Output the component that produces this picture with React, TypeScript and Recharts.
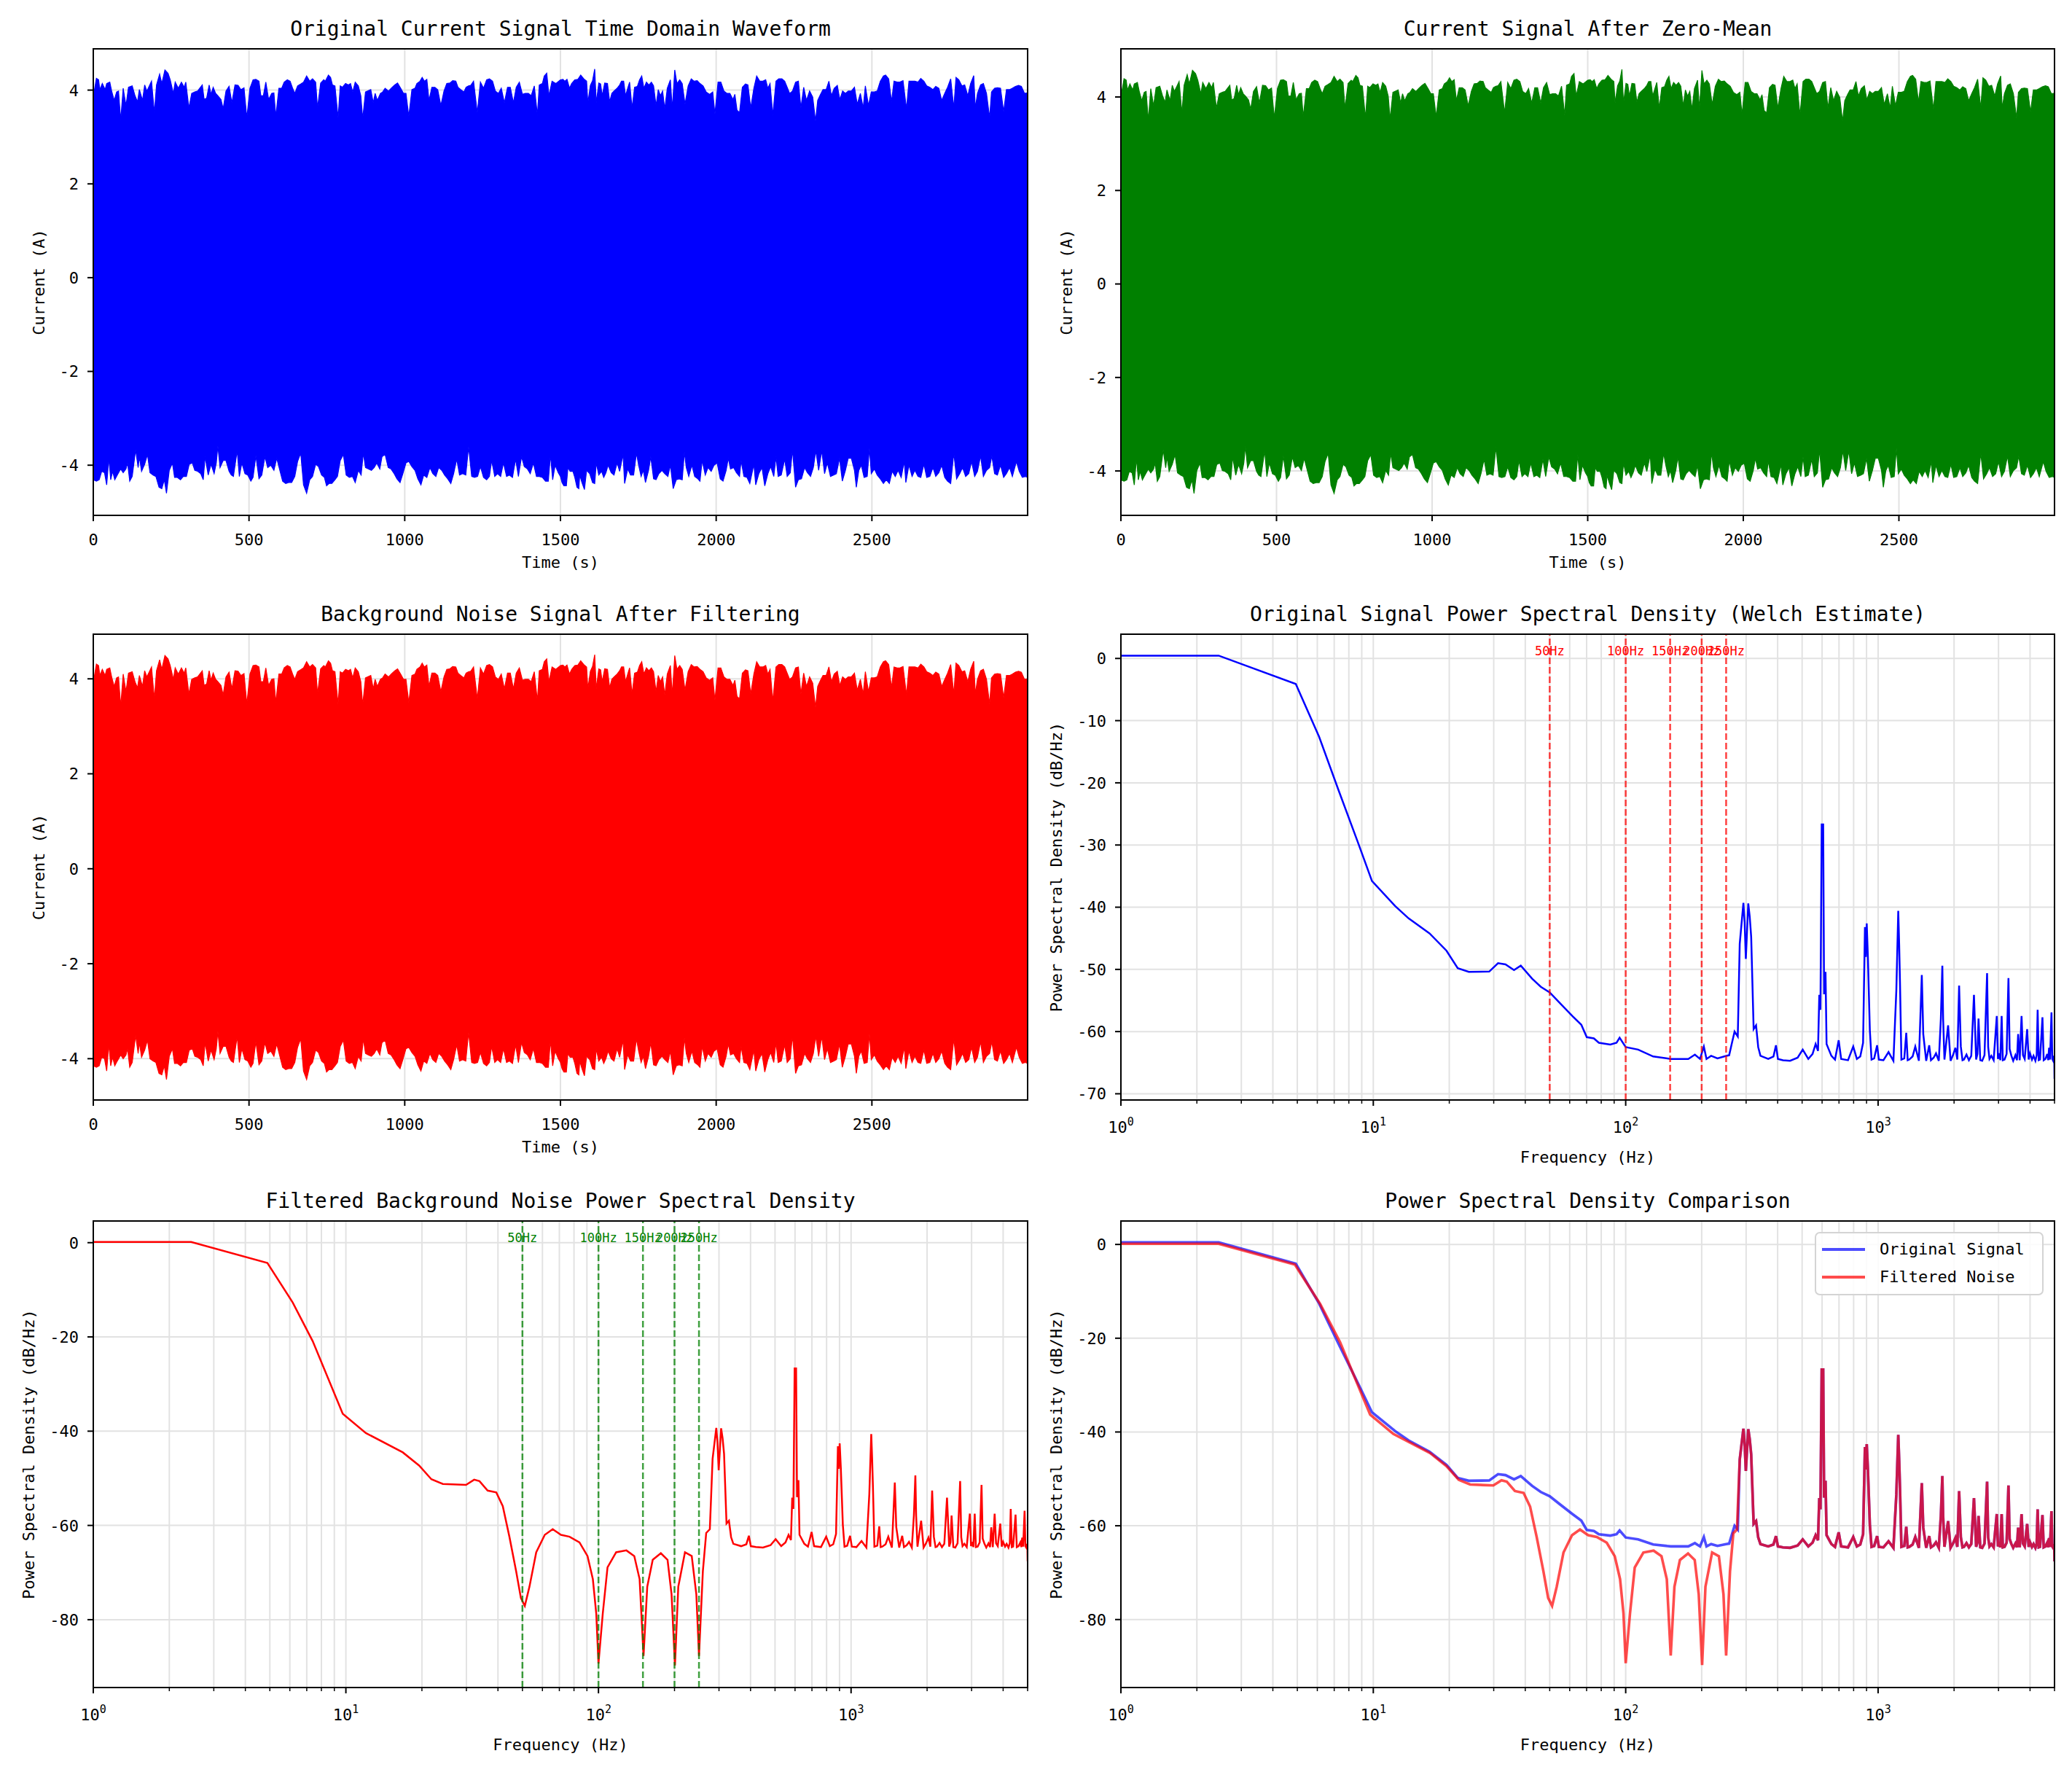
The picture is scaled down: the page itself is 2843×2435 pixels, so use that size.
import React from "react";
import { AreaChart, Area, LineChart, Line, XAxis, YAxis, CartesianGrid, ReferenceLine, Legend } from "recharts";

const FONT = "'DejaVu Sans Mono', monospace";

// ---------- time-domain waveforms: outline of the upper and lower edge of the dense trace ----------
const upperTimes = [
  0,10,17,21,29,38,43,53,59,67, 75,81,88,96,105,113,125,134,142,148, 158,165,172,180,187,196,203,213,220,230,
  240,247,257,263,273,283,292,297,307,316, 326,335,343,350,356,364,372,378,385,393, 400,410,417,426,436,445,455,465,474,484,
  493,503,513,522,532,538,546,554,563,573, 580,586,596,605,613,623,632,640,647,656, 666,675,685,695,704,714,720,730,740,745,
  755,762,768,776,786,793,800,810,819,826, 833,841,851,859,865,874,881,891,899,905, 912,922,929,937,948,958,968,977,987,996,
  1004,1013,1023,1033,1039,1049,1056,1063,1071,1078, 1087,1097,1106,1116,1126,1135,1145,1154,1164,1171, 1180,1190,1197,1205,1212,1221,1233,1243,1253,1263,
  1272,1282,1291,1301,1310,1320,1330,1339,1349,1358, 1368,1378,1387,1397,1406,1416,1426,1432,1442,1448, 1456,1463,1473,1485,1500,1508,1514,1521,1529,1536,
  1546,1556,1565,1575,1584,1588,1596,1603,1610,1615, 1623,1629,1634,1642,1651,1658,1665,1672,1682,1690, 1696,1703,1709,1716,1722,1730,1738,1747,1754,1761,
  1768,1776,1784,1792,1799,1807,1814,1821,1828,1835, 1843,1853,1859,1867,1874,1883,1891,1900,1910,1920, 1929,1939,1948,1958,1968,1979,1989,1996,2006,2015,
  2025,2035,2044,2054,2060,2067,2075,2084,2094,2102, 2111,2121,2130,2140,2150,2159,2166,2173,2182,2192, 2201,2211,2220,2228,2236,2245,2255,2264,2272,2281,
  2290,2300,2310,2319,2326,2335,2343,2353,2362,2370, 2379,2389,2397,2406,2415,2424,2434,2444,2453,2463, 2472,2479,2489,2498,2508,2517,2527,2537,2544,2554,
  2563,2571,2581,2590,2600,2611,2619,2629,2638,2648, 2657,2667,2676,2686,2696,2705,2715,2724,2734,2743, 2753,2763,2770,2779,2789,2798,2808,2817,2827,2832,
  2839,2849,2858,2868,2878,2884,2894,2903,2913,2923, 2932,2942,2951,2961,2971,2980,2990,3000,
];
const lowerTimes = [
  0,10,19,27,36,43,50,56,62,69, 77,88,96,105,110,117,125,136,144,148, 155,165,174,182,192,201,211,220,228,235,
  244,254,261,270,280,289,299,308,318,326, 335,345,353,359,369,378,388,395,400,407, 417,426,436,443,450,462,469,477,487,496,
  506,513,522,532,541,551,560,570,580,589, 599,608,618,627,637,647,656,666,675,685, 695,704,714,723,733,742,749,757,766,776,
  784,793,803,812,822,832,841,851,860,867, 874,883,893,902,910,920,927,937,947,956, 966,975,985,994,1004,1013,1023,1033,1042,1052,
  1061,1071,1081,1090,1100,1109,1119,1128,1138,1148, 1157,1167,1176,1186,1196,1205,1215,1224,1234,1243, 1253,1263,1272,1279,1289,1298,1308,1317,1327,1336,
  1346,1356,1365,1375,1384,1394,1403,1413,1423,1432, 1442,1452,1461,1468,1475,1483,1493,1500,1505,1511, 1519,1524,1531,1540,1546,1553,1559,1562,1569,1577,
  1584,1594,1603,1610,1615,1623,1632,1639,1646,1653, 1663,1672,1682,1690,1701,1706,1716,1725,1735,1744, 1751,1759,1766,1773,1783,1790,1799,1807,1816,1826,
  1835,1845,1853,1862,1872,1881,1891,1898,1904,1912, 1922,1931,1941,1948,1955,1965,1974,1984,1993,2003, 2013,2022,2032,2039,2046,2056,2065,2075,2080,2089,
  2099,2108,2121,2127,2137,2147,2156,2166,2175,2185, 2192,2199,2209,2220,2228,2238,2245,2255,2264,2274, 2284,2293,2303,2312,2320,2329,2339,2348,2357,2367,
  2377,2386,2396,2405,2415,2424,2434,2444,2450,2458, 2466,2475,2485,2492,2498,2508,2517,2527,2537,2546, 2556,2565,2575,2584,2594,2604,2609,2619,2629,2638,
  2648,2657,2667,2676,2686,2696,2705,2715,2724,2734, 2743,2753,2763,2772,2782,2791,2801,2811,2820,2830, 2839,2849,2858,2868,2878,2885,2894,2903,2913,2923,
  2932,2942,2951,2964,2973,2983,2993,3000,
];

const origUpper = [
  3.86,4.25,4.22,4.01,4.14,4.01,4.14,4.17,3.98,3.78, 3.96,3.98,3.36,4.04,3.67,4.06,4.09,3.88,3.75,4.01, 3.78,4.11,3.98,4.09,4.19,3.52,4.11,4.34,4.14,4.43,
  4.36,4.22,3.93,4.17,4.04,4.17,4.06,4.17,3.62,3.93, 3.96,3.98,4.05,4.11,3.80,3.83,4.11,3.91,4.06,3.93, 3.88,3.80,3.60,3.98,4.08,3.73,4.11,4.10,4.01,4.05,
  3.41,4.04,4.22,4.23,4.19,3.88,3.88,4.17,3.80,3.93, 3.94,3.44,4.04,4.04,4.17,4.22,4.19,4.04,3.93,4.09, 4.13,4.17,4.30,4.19,4.24,4.17,3.62,4.15,4.22,4.19,
  4.32,4.27,4.11,4.09,3.41,4.09,4.06,4.14,4.11,4.14, 3.96,4.17,4.09,3.88,3.39,3.96,3.98,4.01,3.73,3.93, 3.78,3.93,3.96,4.04,3.98,4.05,4.11,4.15,4.04,3.93,
  3.93,3.44,4.01,4.04,4.14,4.19,4.27,4.19,4.23,3.78, 4.06,4.06,4.01,3.67,3.98,4.14,4.15,4.20,4.19,4.06, 4.01,3.96,4.06,4.09,4.10,4.19,3.52,4.17,4.04,4.22,
  4.24,4.19,3.98,3.93,4.04,3.73,4.06,4.06,3.73,4.06, 4.17,3.91,3.93,3.93,3.88,4.09,3.47,4.11,4.14,4.30, 4.36,3.88,4.19,4.14,4.22,4.23,4.19,4.23,4.04,4.14,
  4.22,4.23,4.32,4.24,4.19,3.73,4.10,4.20,4.45,3.73, 4.15,4.13,3.88,4.15,4.14,3.75,3.93,3.98,4.04,4.11, 4.19,4.19,3.88,4.04,4.17,3.62,4.06,4.08,4.22,4.30,
  4.04,4.17,4.11,4.17,4.09,3.67,4.01,3.88,3.98,3.60, 4.04,4.22,3.60,4.43,4.14,4.22,4.14,3.70,4.09,4.24, 4.19,4.20,4.14,4.09,3.96,3.91,3.96,3.49,4.17,4.17,
  3.98,3.93,3.93,3.80,3.91,3.57,3.52,4.06,4.13,4.11, 3.62,4.04,4.30,4.19,4.19,4.22,4.04,4.14,3.47,4.19, 4.24,4.24,4.19,4.06,3.93,3.98,4.17,4.19,3.62,4.06,
  3.78,3.98,3.85,3.34,3.78,3.91,4.01,4.01,4.19,3.88, 4.04,4.10,3.80,3.98,3.93,3.98,3.98,4.06,3.70,3.93, 3.62,4.09,3.67,3.96,3.96,3.98,4.19,4.30,4.32,4.24,
  3.75,4.19,4.17,4.17,4.20,3.60,4.19,4.19,4.19,4.17, 4.25,4.19,4.09,4.06,4.01,4.08,4.04,3.78,3.93,4.06, 4.24,3.62,4.27,4.22,4.09,4.11,3.88,4.14,4.31,3.62,
  3.93,4.11,4.14,3.93,3.41,3.96,4.04,4.05,4.04,3.54, 4.01,4.01,4.04,4.08,4.10,4.08,3.93,3.94,
];
const origLower = [
  -4.31,-4.34,-4.31,-4.13,-4.16,-4.42,-3.85,-4.31,-4.13,-4.31, -4.21,-4.08,-4.16,-4.08,-3.95,-4.34,-4.24,-3.67,-4.05,-3.82, -4.13,-3.98,-3.77,-4.16,-4.21,-4.24,-4.47,-4.50,-4.31,-4.60,
  -4.11,-3.95,-4.26,-4.26,-4.31,-4.24,-4.24,-3.98,-3.95,-4.11, -4.13,-4.18,-4.31,-3.82,-4.21,-3.98,-4.18,-3.95,-3.59,-4.05, -3.90,-3.90,-4.13,-4.21,-4.24,-3.69,-4.24,-3.95,-4.18,-4.21,
  -4.34,-4.26,-3.80,-4.29,-4.21,-3.82,-4.05,-4.00,-4.11,-3.85, -4.11,-4.34,-4.39,-4.37,-4.37,-4.24,-3.92,-3.74,-4.42,-4.60, -4.31,-4.24,-3.98,-4.03,-4.21,-4.26,-4.44,-4.39,-4.39,-4.31,
  -4.24,-3.90,-3.77,-4.21,-4.26,-4.24,-4.37,-4.11,-4.21,-3.74, -4.05,-4.08,-4.11,-4.05,-3.95,-4.08,-3.82,-3.77,-4.05,-4.08, -4.18,-4.29,-4.37,-4.18,-3.95,-3.92,-4.03,-4.11,-4.29,-4.42,
  -4.21,-4.26,-4.05,-4.18,-4.24,-4.05,-4.11,-4.21,-4.29,-4.39, -4.18,-3.87,-4.21,-4.18,-4.21,-3.61,-4.24,-4.26,-4.24,-4.03, -4.26,-4.31,-4.24,-3.90,-4.24,-4.18,-4.24,-3.95,-4.24,-4.21,
  -4.26,-3.87,-4.24,-3.82,-4.03,-4.08,-4.18,-3.95,-4.24,-4.24, -4.26,-4.34,-4.34,-3.77,-4.31,-4.00,-4.16,-4.24,-4.37,-4.44, -4.44,-4.05,-4.13,-4.13,-4.26,-4.47,-4.50,-4.21,-4.37,-4.52,
  -4.11,-4.18,-4.37,-4.39,-3.95,-4.21,-4.13,-4.26,-4.16,-4.00, -4.16,-4.21,-3.95,-4.13,-3.77,-4.39,-4.08,-4.21,-4.21,-3.74, -4.00,-4.24,-4.11,-4.37,-4.11,-3.82,-4.29,-4.31,-4.18,-4.11,
  -4.18,-4.24,-4.00,-4.50,-4.31,-4.29,-4.31,-3.72,-4.05,-4.24, -4.00,-4.24,-4.29,-4.34,-3.90,-4.21,-4.05,-4.13,-4.00,-3.95, -4.29,-4.34,-4.11,-3.85,-4.08,-4.05,-4.16,-4.24,-3.90,-4.24,
  -4.26,-4.39,-3.98,-4.42,-4.18,-4.05,-4.44,-4.18,-4.03,-4.24, -3.82,-4.24,-4.21,-3.87,-4.24,-4.16,-3.67,-4.47,-4.31,-4.29, -4.05,-4.16,-4.24,-4.05,-3.69,-4.11,-3.69,-4.18,-3.95,-4.24,
  -4.21,-4.18,-3.85,-4.34,-4.11,-3.85,-3.85,-4.11,-4.47,-4.11, -4.00,-4.26,-4.24,-3.64,-4.18,-4.08,-4.21,-4.29,-4.39,-4.31, -4.39,-4.13,-4.24,-4.11,-4.26,-3.92,-4.37,-4.00,-4.24,-4.11,
  -4.24,-4.26,-3.98,-4.26,-4.24,-4.05,-4.24,-4.16,-4.00,-4.26, -4.34,-4.39,-3.74,-4.29,-4.18,-4.05,-4.24,-4.18,-3.92,-4.24, -4.13,-3.80,-4.24,-4.11,-4.05,-3.80,-4.18,-4.21,-4.00,-4.26,
  -4.18,-4.05,-4.24,-3.92,-4.13,-4.26,-4.24,-4.26,
];

const zeroMeanUpper = [
  4.00,4.39,4.36,4.15,4.28,4.15,4.28,4.31,4.12,3.92, 4.10,4.12,3.50,4.18,3.81,4.20,4.23,4.02,3.89,4.15, 3.92,4.25,4.12,4.23,4.33,3.66,4.25,4.48,4.28,4.57,
  4.50,4.36,4.07,4.31,4.18,4.31,4.20,4.31,3.76,4.07, 4.10,4.12,4.19,4.25,3.94,3.97,4.25,4.05,4.20,4.07, 4.02,3.94,3.74,4.12,4.22,3.87,4.25,4.24,4.15,4.19,
  3.55,4.18,4.36,4.37,4.33,4.02,4.02,4.31,3.94,4.07, 4.08,3.58,4.18,4.18,4.31,4.36,4.33,4.18,4.07,4.23, 4.27,4.31,4.44,4.33,4.38,4.31,3.76,4.29,4.36,4.33,
  4.46,4.41,4.25,4.23,3.55,4.23,4.20,4.28,4.25,4.28, 4.10,4.31,4.23,4.02,3.53,4.10,4.12,4.15,3.87,4.07, 3.92,4.07,4.10,4.18,4.12,4.19,4.25,4.29,4.18,4.07,
  4.07,3.58,4.15,4.18,4.28,4.33,4.41,4.33,4.37,3.92, 4.20,4.20,4.15,3.81,4.12,4.28,4.29,4.34,4.33,4.20, 4.15,4.10,4.20,4.23,4.24,4.33,3.66,4.31,4.18,4.36,
  4.38,4.33,4.12,4.07,4.18,3.87,4.20,4.20,3.87,4.20, 4.31,4.05,4.07,4.07,4.02,4.23,3.61,4.25,4.28,4.44, 4.50,4.02,4.33,4.28,4.36,4.37,4.33,4.37,4.18,4.28,
  4.36,4.37,4.46,4.38,4.33,3.87,4.24,4.34,4.59,3.87, 4.29,4.27,4.02,4.29,4.28,3.89,4.07,4.12,4.18,4.25, 4.33,4.33,4.02,4.18,4.31,3.76,4.20,4.22,4.36,4.44,
  4.18,4.31,4.25,4.31,4.23,3.81,4.15,4.02,4.12,3.74, 4.18,4.36,3.74,4.57,4.28,4.36,4.28,3.84,4.23,4.38, 4.33,4.34,4.28,4.23,4.10,4.05,4.10,3.63,4.31,4.31,
  4.12,4.07,4.07,3.94,4.05,3.71,3.66,4.20,4.27,4.25, 3.76,4.18,4.44,4.33,4.33,4.36,4.18,4.28,3.61,4.33, 4.38,4.38,4.33,4.20,4.07,4.12,4.31,4.33,3.76,4.20,
  3.92,4.12,3.99,3.48,3.92,4.05,4.15,4.15,4.33,4.02, 4.18,4.24,3.94,4.12,4.07,4.12,4.12,4.20,3.84,4.07, 3.76,4.23,3.81,4.10,4.10,4.12,4.33,4.44,4.46,4.38,
  3.89,4.33,4.31,4.31,4.34,3.74,4.33,4.33,4.33,4.31, 4.39,4.33,4.23,4.20,4.15,4.22,4.18,3.92,4.07,4.20, 4.38,3.76,4.41,4.36,4.23,4.25,4.02,4.28,4.45,3.76,
  4.07,4.25,4.28,4.07,3.55,4.10,4.18,4.19,4.18,3.68, 4.15,4.15,4.18,4.22,4.24,4.22,4.07,4.08,
];
const zeroMeanLower = [
  -4.19,-4.22,-4.19,-4.01,-4.04,-4.30,-3.73,-4.19,-4.01,-4.19, -4.09,-3.96,-4.04,-3.96,-3.83,-4.22,-4.12,-3.55,-3.93,-3.70, -4.01,-3.86,-3.65,-4.04,-4.09,-4.12,-4.35,-4.38,-4.19,-4.48,
  -3.99,-3.83,-4.14,-4.14,-4.19,-4.12,-4.12,-3.86,-3.83,-3.99, -4.01,-4.06,-4.19,-3.70,-4.09,-3.86,-4.06,-3.83,-3.47,-3.93, -3.78,-3.78,-4.01,-4.09,-4.12,-3.57,-4.12,-3.83,-4.06,-4.09,
  -4.22,-4.14,-3.68,-4.17,-4.09,-3.70,-3.93,-3.88,-3.99,-3.73, -3.99,-4.22,-4.27,-4.25,-4.25,-4.12,-3.80,-3.62,-4.30,-4.48, -4.19,-4.12,-3.86,-3.91,-4.09,-4.14,-4.32,-4.27,-4.27,-4.19,
  -4.12,-3.78,-3.65,-4.09,-4.14,-4.12,-4.25,-3.99,-4.09,-3.62, -3.93,-3.96,-3.99,-3.93,-3.83,-3.96,-3.70,-3.65,-3.93,-3.96, -4.06,-4.17,-4.25,-4.06,-3.83,-3.80,-3.91,-3.99,-4.17,-4.30,
  -4.09,-4.14,-3.93,-4.06,-4.12,-3.93,-3.99,-4.09,-4.17,-4.27, -4.06,-3.75,-4.09,-4.06,-4.09,-3.49,-4.12,-4.14,-4.12,-3.91, -4.14,-4.19,-4.12,-3.78,-4.12,-4.06,-4.12,-3.83,-4.12,-4.09,
  -4.14,-3.75,-4.12,-3.70,-3.91,-3.96,-4.06,-3.83,-4.12,-4.12, -4.14,-4.22,-4.22,-3.65,-4.19,-3.88,-4.04,-4.12,-4.25,-4.32, -4.32,-3.93,-4.01,-4.01,-4.14,-4.35,-4.38,-4.09,-4.25,-4.40,
  -3.99,-4.06,-4.25,-4.27,-3.83,-4.09,-4.01,-4.14,-4.04,-3.88, -4.04,-4.09,-3.83,-4.01,-3.65,-4.27,-3.96,-4.09,-4.09,-3.62, -3.88,-4.12,-3.99,-4.25,-3.99,-3.70,-4.17,-4.19,-4.06,-3.99,
  -4.06,-4.12,-3.88,-4.38,-4.19,-4.17,-4.19,-3.60,-3.93,-4.12, -3.88,-4.12,-4.17,-4.22,-3.78,-4.09,-3.93,-4.01,-3.88,-3.83, -4.17,-4.22,-3.99,-3.73,-3.96,-3.93,-4.04,-4.12,-3.78,-4.12,
  -4.14,-4.27,-3.86,-4.30,-4.06,-3.93,-4.32,-4.06,-3.91,-4.12, -3.70,-4.12,-4.09,-3.75,-4.12,-4.04,-3.55,-4.35,-4.19,-4.17, -3.93,-4.04,-4.12,-3.93,-3.57,-3.99,-3.57,-4.06,-3.83,-4.12,
  -4.09,-4.06,-3.73,-4.22,-3.99,-3.73,-3.73,-3.99,-4.35,-3.99, -3.88,-4.14,-4.12,-3.52,-4.06,-3.96,-4.09,-4.17,-4.27,-4.19, -4.27,-4.01,-4.12,-3.99,-4.14,-3.80,-4.25,-3.88,-4.12,-3.99,
  -4.12,-4.14,-3.86,-4.14,-4.12,-3.93,-4.12,-4.04,-3.88,-4.14, -4.22,-4.27,-3.62,-4.17,-4.06,-3.93,-4.12,-4.06,-3.80,-4.12, -4.01,-3.68,-4.12,-3.99,-3.93,-3.68,-4.06,-4.09,-3.88,-4.14,
  -4.06,-3.93,-4.12,-3.80,-4.01,-4.14,-4.12,-4.14,
];

const filteredUpper = [
  3.92,4.31,4.28,4.07,4.20,4.07,4.20,4.23,4.04,3.84, 4.02,4.04,3.42,4.10,3.73,4.12,4.15,3.94,3.81,4.07, 3.84,4.17,4.04,4.15,4.25,3.58,4.17,4.40,4.20,4.49,
  4.42,4.28,3.99,4.23,4.10,4.23,4.12,4.23,3.68,3.99, 4.02,4.04,4.11,4.17,3.86,3.89,4.17,3.97,4.12,3.99, 3.94,3.86,3.66,4.04,4.14,3.79,4.17,4.16,4.07,4.11,
  3.47,4.10,4.28,4.29,4.25,3.94,3.94,4.23,3.86,3.99, 4.00,3.50,4.10,4.10,4.23,4.28,4.25,4.10,3.99,4.15, 4.19,4.23,4.36,4.25,4.30,4.23,3.68,4.21,4.28,4.25,
  4.38,4.33,4.17,4.15,3.47,4.15,4.12,4.20,4.17,4.20, 4.02,4.23,4.15,3.94,3.45,4.02,4.04,4.07,3.79,3.99, 3.84,3.99,4.02,4.10,4.04,4.11,4.17,4.21,4.10,3.99,
  3.99,3.50,4.07,4.10,4.20,4.25,4.33,4.25,4.29,3.84, 4.12,4.12,4.07,3.73,4.04,4.20,4.21,4.26,4.25,4.12, 4.07,4.02,4.12,4.15,4.16,4.25,3.58,4.23,4.10,4.28,
  4.30,4.25,4.04,3.99,4.10,3.79,4.12,4.12,3.79,4.12, 4.23,3.97,3.99,3.99,3.94,4.15,3.53,4.17,4.20,4.36, 4.42,3.94,4.25,4.20,4.28,4.29,4.25,4.29,4.10,4.20,
  4.28,4.29,4.38,4.30,4.25,3.79,4.16,4.26,4.51,3.79, 4.21,4.19,3.94,4.21,4.20,3.81,3.99,4.04,4.10,4.17, 4.25,4.25,3.94,4.10,4.23,3.68,4.12,4.14,4.28,4.36,
  4.10,4.23,4.17,4.23,4.15,3.73,4.07,3.94,4.04,3.66, 4.10,4.28,3.66,4.49,4.20,4.28,4.20,3.76,4.15,4.30, 4.25,4.26,4.20,4.15,4.02,3.97,4.02,3.55,4.23,4.23,
  4.04,3.99,3.99,3.86,3.97,3.63,3.58,4.12,4.19,4.17, 3.68,4.10,4.36,4.25,4.25,4.28,4.10,4.20,3.53,4.25, 4.30,4.30,4.25,4.12,3.99,4.04,4.23,4.25,3.68,4.12,
  3.84,4.04,3.91,3.40,3.84,3.97,4.07,4.07,4.25,3.94, 4.10,4.16,3.86,4.04,3.99,4.04,4.04,4.12,3.76,3.99, 3.68,4.15,3.73,4.02,4.02,4.04,4.25,4.36,4.38,4.30,
  3.81,4.25,4.23,4.23,4.26,3.66,4.25,4.25,4.25,4.23, 4.31,4.25,4.15,4.12,4.07,4.14,4.10,3.84,3.99,4.12, 4.30,3.68,4.33,4.28,4.15,4.17,3.94,4.20,4.37,3.68,
  3.99,4.17,4.20,3.99,3.47,4.02,4.10,4.11,4.10,3.60, 4.07,4.07,4.10,4.14,4.16,4.14,3.99,4.00,
];
const filteredLower = [
  -4.15,-4.18,-4.15,-3.97,-4.00,-4.26,-3.69,-4.15,-3.97,-4.15, -4.05,-3.92,-4.00,-3.92,-3.79,-4.18,-4.08,-3.51,-3.89,-3.66, -3.97,-3.82,-3.61,-4.00,-4.05,-4.08,-4.31,-4.34,-4.15,-4.44,
  -3.95,-3.79,-4.10,-4.10,-4.15,-4.08,-4.08,-3.82,-3.79,-3.95, -3.97,-4.02,-4.15,-3.66,-4.05,-3.82,-4.02,-3.79,-3.43,-3.89, -3.74,-3.74,-3.97,-4.05,-4.08,-3.53,-4.08,-3.79,-4.02,-4.05,
  -4.18,-4.10,-3.64,-4.13,-4.05,-3.66,-3.89,-3.84,-3.95,-3.69, -3.95,-4.18,-4.23,-4.21,-4.21,-4.08,-3.76,-3.58,-4.26,-4.44, -4.15,-4.08,-3.82,-3.87,-4.05,-4.10,-4.28,-4.23,-4.23,-4.15,
  -4.08,-3.74,-3.61,-4.05,-4.10,-4.08,-4.21,-3.95,-4.05,-3.58, -3.89,-3.92,-3.95,-3.89,-3.79,-3.92,-3.66,-3.61,-3.89,-3.92, -4.02,-4.13,-4.21,-4.02,-3.79,-3.76,-3.87,-3.95,-4.13,-4.26,
  -4.05,-4.10,-3.89,-4.02,-4.08,-3.89,-3.95,-4.05,-4.13,-4.23, -4.02,-3.71,-4.05,-4.02,-4.05,-3.45,-4.08,-4.10,-4.08,-3.87, -4.10,-4.15,-4.08,-3.74,-4.08,-4.02,-4.08,-3.79,-4.08,-4.05,
  -4.10,-3.71,-4.08,-3.66,-3.87,-3.92,-4.02,-3.79,-4.08,-4.08, -4.10,-4.18,-4.18,-3.61,-4.15,-3.84,-4.00,-4.08,-4.21,-4.28, -4.28,-3.89,-3.97,-3.97,-4.10,-4.31,-4.34,-4.05,-4.21,-4.36,
  -3.95,-4.02,-4.21,-4.23,-3.79,-4.05,-3.97,-4.10,-4.00,-3.84, -4.00,-4.05,-3.79,-3.97,-3.61,-4.23,-3.92,-4.05,-4.05,-3.58, -3.84,-4.08,-3.95,-4.21,-3.95,-3.66,-4.13,-4.15,-4.02,-3.95,
  -4.02,-4.08,-3.84,-4.34,-4.15,-4.13,-4.15,-3.56,-3.89,-4.08, -3.84,-4.08,-4.13,-4.18,-3.74,-4.05,-3.89,-3.97,-3.84,-3.79, -4.13,-4.18,-3.95,-3.69,-3.92,-3.89,-4.00,-4.08,-3.74,-4.08,
  -4.10,-4.23,-3.82,-4.26,-4.02,-3.89,-4.28,-4.02,-3.87,-4.08, -3.66,-4.08,-4.05,-3.71,-4.08,-4.00,-3.51,-4.31,-4.15,-4.13, -3.89,-4.00,-4.08,-3.89,-3.53,-3.95,-3.53,-4.02,-3.79,-4.08,
  -4.05,-4.02,-3.69,-4.18,-3.95,-3.69,-3.69,-3.95,-4.31,-3.95, -3.84,-4.10,-4.08,-3.48,-4.02,-3.92,-4.05,-4.13,-4.23,-4.15, -4.23,-3.97,-4.08,-3.95,-4.10,-3.76,-4.21,-3.84,-4.08,-3.95,
  -4.08,-4.10,-3.82,-4.10,-4.08,-3.89,-4.08,-4.00,-3.84,-4.10, -4.18,-4.23,-3.58,-4.13,-4.02,-3.89,-4.08,-4.02,-3.76,-4.08, -3.97,-3.64,-4.08,-3.95,-3.89,-3.64,-4.02,-4.05,-3.84,-4.10,
  -4.02,-3.89,-4.08,-3.76,-3.97,-4.10,-4.08,-4.10,
];

// ---------- Welch PSD, [frequency Hz, dB/Hz] ----------
const originalLowPsd: [number, number][] = [
  [1,0.45],[2.44,0.45],[4.93,-4.1],[6.1,-12.6],[7.3,-21.3],[8.75,-29.9],[9.88,-35.8],[12.2,-39.8],[13.8,-41.8],[16.7,-44.2],
  [19.5,-47.0],[21.6,-49.8],[23.9,-50.4],[28.8,-50.35],[31.2,-49.0],[33.4,-49.2],[36.1,-50.1],[38.4,-49.4],[42.6,-51.5],[46.1,-52.8],
  [50,-53.7],[54.8,-55.4],[61.5,-57.5],[66.7,-58.9],[70.1,-60.9],[74.8,-61.1],[78.3,-61.8],[86.9,-62.1],[92,-61.8],[94.6,-61.0],
  [100,-62.5],[112,-62.9],[128.5,-64.0],[151,-64.4],[177,-64.4],[188,-63.7],[197,-64.4],[204,-62.4],[209,-64.4],[218,-63.9],
  [231,-64.3],[250,-63.9],[257,-63.8],[263,-62.0],[270,-60.0],[278,-60.8],
];
const filteredLowPsd: [number, number][] = [
  [1,0.15],[2.44,0.15],[4.89,-4.3],[6.16,-12.7],[7.39,-20.9],[9.72,-36.3],[12.0,-40.4],[16.8,-44.5],[19.5,-47.3],[21.8,-50.2],
  [24.2,-51.2],[29.9,-51.4],[32.2,-50.3],[33.8,-50.6],[36.4,-52.6],[39.4,-53.0],[41.8,-55.9],[44.4,-62.4],[47.2,-69.7],[49.3,-75.4],
  [51.1,-77.1],[53.3,-73.0],[56.7,-65.7],[61.3,-62.0],[65.9,-60.8],[71.0,-62.0],[76.8,-62.4],[84.1,-63.6],[90.5,-66.5],[95,-71.4],
  [98,-78.7],[100,-89.3],[104,-78.7],[108.6,-68.9],[117.5,-65.7],[129,-65.3],[138.6,-66.5],[145.5,-71.4],[150.8,-87.7],[156,-73.0],
  [164,-67.3],[176.6,-65.9],[187.7,-67.3],[194.7,-74.6],[200.8,-89.7],[207,-73.0],[220,-65.7],[234,-66.5],[244,-74.6],[250,-87.7],
  [259,-69.7],[267,-61.6],[276,-60.8],
];
// above ~280 Hz both spectra coincide
const harmonicTailPsd: [number, number][] = [
  [283,-45.9],[292.7,-39.3],[296,-42.5],[299.2,-48.3],[305.9,-39.4],[310,-41.5],[314.2,-44.8],[321.3,-59.6],[328.5,-59.0],[335,-62.5],
  [341.9,-63.9],[367,-64.4],[385,-64.0],[393.9,-62.2],[401,-64.4],[420,-64.6],[448,-64.7],[480,-64.2],[502.8,-62.9],[529,-64.4],
  [550,-63.6],[565.6,-62.0],[578,-63.1],[584.8,-54.1],[591,-56.5],[597.9,-26.7],[605.9,-26.7],[611,-54],[619,-50.4],[625,-62.0],
  [653,-63.9],[675,-64.5],[698,-61.4],[714,-64.4],[760,-64.6],[797,-62.4],[824,-64.4],[850,-64.0],[872,-61.8],[887,-43.2],
  [894,-48],[901.5,-42.6],[911,-47.9],[927.6,-59.8],[942,-64.5],[965,-64.3],[991,-62.2],[1007,-64.5],[1050,-64.6],[1100,-63.3],
  [1150,-64.7],[1181,-53.4],[1202,-40.6],[1212,-46],[1221,-52.0],[1237,-64.5],[1270,-64.3],[1293,-60.2],[1310,-64.6],[1329,-64.5],
  [1370,-64.0],[1404,-62.4],[1451,-64.7],[1490,-50.9],[1510,-60.4],[1551,-64.7],[1594,-62.2],[1620,-64.6],[1660,-64.2],[1696,-63.5],
  [1740,-64.7],[1773,-57.9],[1797,-49.4],[1810,-58],[1832,-64.5],[1894,-59.0],[1937,-64.7],[1980,-63.8],[2025,-62.6],[2060,-64.5],
  [2094,-52.6],[2127,-62.4],[2160,-64.6],[2189,-64.5],[2240,-63.7],[2290,-64.6],[2340,-63.9],[2398,-54.1],[2446,-64.5],[2475,-63.6],
  [2500,-57.9],[2540,-64.6],[2585,-64.7],[2640,-63.8],[2703,-50.6],[2730,-62.5],[2763,-64.4],[2810,-63.9],[2870,-64.6],[2953,-57.5],
  [2985,-64.4],[3019,-63.5],[3050,-64.6],[3087,-57.5],[3120,-64.6],[3170,-64.5],[3230,-63.6],[3285,-51.4],[3320,-62.8],[3374,-63.9],
  [3430,-64.7],[3500,-63.8],[3550,-64.6],[3588,-60.4],[3640,-64.6],[3702,-57.5],[3750,-63.8],[3809,-64.4],[3896,-59.6],[3950,-64.5],
  [4000,-63.5],[4071,-64.5],[4130,-63.9],[4200,-64.7],[4250,-63.8],[4287,-56.5],[4330,-64.6],[4381,-64.5],[4479,-57.7],[4530,-64.6],
  [4603,-64.4],[4680,-63.6],[4720,-64.6],[4759,-62.6],[4800,-64.5],[4864,-56.9],[4900,-64.4],[4939,-64.7],[4970,-63.9],[4990,-64.5],
  [5000,-67.6],
];

const harmonicsHz = [50, 100, 150, 200, 250];
const timeTicks = [0, 500, 1000, 1500, 2000, 2500];
const currentTicks = [-4, -2, 0, 2, 4];
const logTicks = [1,2,3,4,5,6,7,8,9,10,20,30,40,50,60,70,80,90,100,200,300,400,500,600,700,800,900,1000,2000,3000,4000,5000];
const psdTicks70 = [0, -10, -20, -30, -40, -50, -60, -70];
const psdTicks80 = [0, -20, -40, -60, -80];

const toPts = (pairs: [number, number][]) => pairs.map(([f, db]) => ({ f, db }));
const originalPsd = toPts([...originalLowPsd, ...harmonicTailPsd]);
const filteredPsd = toPts([...filteredLowPsd, ...harmonicTailPsd]);
const edge = (ts: number[], vs: number[]) => ts.slice(0, Math.min(ts.length, vs.length)).map((t, i) => ({ t, v: vs[i] }));

// ---------- layout ----------
const PAD = { l: 80, r: 10, t: 10, b: 70 };
const GRID = "#e2e2e2";

type Box = { x: number; y: number; w: number; h: number };
const boxA: Box = { x: 128, y: 67, w: 1282, h: 640 };
const boxB: Box = { x: 1538, y: 67, w: 1281, h: 640 };
const boxC: Box = { x: 128, y: 870, w: 1282, h: 639 };
const boxD: Box = { x: 1538, y: 870, w: 1281, h: 639 };
const boxE: Box = { x: 128, y: 1675, w: 1282, h: 640 };
const boxF: Box = { x: 1538, y: 1675, w: 1281, h: 640 };

function YTick(props: any) {
  const { x, y, payload } = props;
  return (
    <g>
      <line x1={x - 8} x2={x} y1={y} y2={y} stroke="#000" strokeWidth={2} />
      <text x={x - 20} y={y} dy="0.36em" textAnchor="end" fontSize={22} fontFamily={FONT} fill="#000">{payload.value}</text>
    </g>
  );
}

function TimeTick(props: any) {
  const { x, y, payload } = props;
  return (
    <g>
      <line x1={x} x2={x} y1={y} y2={y + 8} stroke="#000" strokeWidth={2} />
      <text x={x} y={y + 41} textAnchor="middle" fontSize={22} fontFamily={FONT} fill="#000">{payload.value}</text>
    </g>
  );
}

function LogTick(props: any) {
  const { x, y, payload } = props;
  const v = payload.value;
  const e = Math.round(Math.log10(v));
  const major = Math.abs(v - Math.pow(10, e)) < 1e-9;
  return (
    <g>
      <line x1={x} x2={x} y1={y} y2={y + (major ? 8 : 5)} stroke="#000" strokeWidth={major ? 2 : 1.5} />
      {major && (
        <text x={x} y={y + 45} textAnchor="middle" fontSize={22} fontFamily={FONT} fill="#000">
          10<tspan dy={-10} fontSize={15}>{e}</tspan>
        </text>
      )}
    </g>
  );
}

const chartMargin = { left: 0, right: PAD.r, top: PAD.t, bottom: 0 };

function TimePanel({ box, color, upper, lower, domain }:
  { box: Box; color: string; upper: number[]; lower: number[]; domain: [number, number] }) {
  return (
    <div style={{ position: "absolute", left: box.x - PAD.l, top: box.y - PAD.t }}>
      <AreaChart width={box.w + PAD.l + PAD.r} height={box.h + PAD.t + PAD.b} margin={chartMargin}>
        <CartesianGrid stroke={GRID} strokeWidth={2} />
        <XAxis type="number" dataKey="t" domain={[0, 3000]} allowDataOverflow ticks={timeTicks} interval={0}
          tick={<TimeTick />} tickLine={false} axisLine={false} tickSize={0} tickMargin={0} height={PAD.b} />
        <YAxis type="number" domain={domain} allowDataOverflow ticks={currentTicks} interval={0}
          tick={<YTick />} tickLine={false} axisLine={false} tickSize={0} tickMargin={0} width={PAD.l} />
        <Area data={edge(upperTimes, upper)} dataKey="v" baseValue={-1} type="linear" stroke={color} strokeWidth={1.2}
          fill={color} fillOpacity={1} dot={false} activeDot={false} isAnimationActive={false} />
        <Area data={edge(lowerTimes, lower)} dataKey="v" baseValue={1} type="linear" stroke={color} strokeWidth={1.2}
          fill={color} fillOpacity={1} dot={false} activeDot={false} isAnimationActive={false} />
      </AreaChart>
    </div>
  );
}

type PsdLine = { name: string; data: { f: number; db: number }[]; color: string; opacity: number; width: number };

function LegendBox({ lines }: { lines: PsdLine[] }) {
  return (
    <div style={{ position: "relative", width: 314, height: 87, boxSizing: "border-box", border: "2px solid #d4d4d4", borderRadius: 7,
      background: "rgba(255,255,255,0.85)", fontFamily: FONT, fontSize: 22 }}>
      {lines.map((l, i) => (
        <div key={l.name} style={{ position: "absolute", left: 0, top: i === 0 ? 22 : 60, height: 0 }}>
          <div style={{ position: "absolute", left: 8, top: -2, width: 59, height: 4, background: l.color, opacity: l.opacity }} />
          <div style={{ position: "absolute", left: 87, top: -14, whiteSpace: "nowrap", lineHeight: "28px" }}>{l.name}</div>
        </div>
      ))}
    </div>
  );
}

function PsdPanel({ box, yDomain, yTicks, lines, markColor, legend }:
  { box: Box; yDomain: [number, number]; yTicks: number[]; lines: PsdLine[]; markColor?: string; legend?: boolean }) {
  return (
    <div style={{ position: "absolute", left: box.x - PAD.l, top: box.y - PAD.t }}>
      <LineChart width={box.w + PAD.l + PAD.r} height={box.h + PAD.t + PAD.b} margin={chartMargin}>
        <CartesianGrid stroke={GRID} strokeWidth={2} />
        <XAxis type="number" dataKey="f" scale="log" domain={[1, 5000]} allowDataOverflow ticks={logTicks} interval={0}
          tick={<LogTick />} tickLine={false} axisLine={false} tickSize={0} tickMargin={0} height={PAD.b} />
        <YAxis type="number" domain={yDomain} allowDataOverflow ticks={yTicks} interval={0}
          tick={<YTick />} tickLine={false} axisLine={false} tickSize={0} tickMargin={0} width={PAD.l} />
        {lines.map((l) => (
          <Line key={l.name} data={l.data} dataKey="db" name={l.name} type="linear" stroke={l.color} strokeOpacity={l.opacity}
            strokeWidth={l.width} dot={false} activeDot={false} isAnimationActive={false} />
        ))}
        {markColor && harmonicsHz.map((h) => (
          <ReferenceLine key={h} x={h} stroke={markColor} strokeOpacity={0.75} strokeWidth={2.5} strokeDasharray="9 4"
            label={{ value: `${h}Hz`, position: "insideTop", offset: 17, fill: markColor, fontSize: 17, fontFamily: FONT }} />
        ))}
        {legend && (
          <Legend layout="vertical" align="center" verticalAlign="middle"
            wrapperStyle={{ position: "absolute", left: PAD.l + box.w - 15 - 314, top: PAD.t + 15, width: 314, height: 87 }}
            content={() => <LegendBox lines={lines} />} />
        )}
      </LineChart>
    </div>
  );
}

const panels = [
  { box: boxA, title: "Original Current Signal Time Domain Waveform", xl: "Time (s)", yl: "Current (A)", psd: false },
  { box: boxB, title: "Current Signal After Zero-Mean", xl: "Time (s)", yl: "Current (A)", psd: false },
  { box: boxC, title: "Background Noise Signal After Filtering", xl: "Time (s)", yl: "Current (A)", psd: false },
  { box: boxD, title: "Original Signal Power Spectral Density (Welch Estimate)", xl: "Frequency (Hz)", yl: "Power Spectral Density (dB/Hz)", psd: true },
  { box: boxE, title: "Filtered Background Noise Power Spectral Density", xl: "Frequency (Hz)", yl: "Power Spectral Density (dB/Hz)", psd: true },
  { box: boxF, title: "Power Spectral Density Comparison", xl: "Frequency (Hz)", yl: "Power Spectral Density (dB/Hz)", psd: true },
];

export default function App() {
  const origLine: PsdLine = { name: "Original Signal", data: originalPsd, color: "#0000ff", opacity: 1, width: 2.5 };
  const filtLine: PsdLine = { name: "Filtered Noise", data: filteredPsd, color: "#ff0000", opacity: 1, width: 2.5 };
  const cmp: PsdLine[] = [
    { name: "Original Signal", data: originalPsd, color: "#0000ff", opacity: 0.7, width: 3.6 },
    { name: "Filtered Noise", data: filteredPsd, color: "#ff0000", opacity: 0.7, width: 3.6 },
  ];
  return (
    <div style={{ position: "absolute", left: 0, top: 0, width: 2843, height: 2435, background: "#fff", fontFamily: FONT }}>
      <TimePanel box={boxA} color="#0000ff" upper={origUpper} lower={origLower} domain={[-5.07, 4.88]} />
      <TimePanel box={boxB} color="#008000" upper={zeroMeanUpper} lower={zeroMeanLower} domain={[-4.95, 5.03]} />
      <TimePanel box={boxC} color="#ff0000" upper={filteredUpper} lower={filteredLower} domain={[-4.87, 4.94]} />
      <PsdPanel box={boxD} yDomain={[-71, 3.9]} yTicks={psdTicks70} lines={[origLine]} markColor="#ff0000" />
      <PsdPanel box={boxE} yDomain={[-94.4, 4.6]} yTicks={psdTicks80} lines={[filtLine]} markColor="#008000" />
      <PsdPanel box={boxF} yDomain={[-94.5, 5.0]} yTicks={psdTicks80} lines={cmp} legend />
      <svg width={2843} height={2435} style={{ position: "absolute", left: 0, top: 0, pointerEvents: "none" }}>
        {panels.map((p) => {
          const { x, y, w, h } = p.box;
          return (
            <g key={p.title} fontFamily={FONT} fill="#000">
              <rect x={x} y={y} width={w} height={h} fill="none" stroke="#000" strokeWidth={2} />
              <text x={x + w / 2} y={y - 18} textAnchor="middle" fontSize={28}>{p.title}</text>
              <text x={x + w / 2} y={y + h + (p.psd ? 86 : 72)} textAnchor="middle" fontSize={22}>{p.xl}</text>
              <text transform={`translate(${x - (p.psd ? 89 : 75)}, ${y + h / 2}) rotate(-90)`} textAnchor="middle" dy="0.35em" fontSize={22}>{p.yl}</text>
            </g>
          );
        })}
      </svg>
    </div>
  );
}
